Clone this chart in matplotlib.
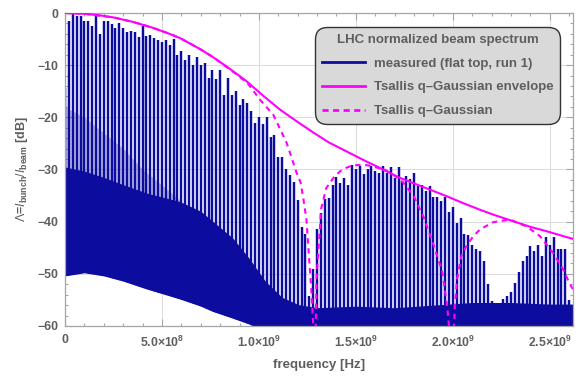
import numpy as np
import matplotlib
matplotlib.use("Agg")
import matplotlib.pyplot as plt
from matplotlib.ticker import MultipleLocator, FuncFormatter
from matplotlib.path import Path

plt.rcParams["font.family"] = ["Liberation Sans", "DejaVu Sans"]
plt.rcParams["mathtext.fontset"] = "custom"
plt.rcParams["mathtext.rm"] = "Liberation Sans"
plt.rcParams["mathtext.it"] = "Liberation Sans:italic"
plt.rcParams["mathtext.bf"] = "Liberation Sans:bold"

# ---------------- data ----------------
harmonic_spacing_hz = 20e6
spike_peak_db = [
    -14.4, -1.6, -0.1, -0.6, -0.6, -1.5, -1.5, -2.4, 0.0, -4.0,
    -1.5, -1.5, -2.1, -2.9, -2.0, -2.9, -3.6, -3.5, -3.6, -4.6,
    -2.5, -4.5, -4.3, -4.8, -5.1, -5.6, -5.1, -6.2, -4.9, -8.0,
    -7.3, -9.0, -8.1, -9.9, -8.4, -9.9, -9.6, -12.5, -10.9, -12.7,
    -11.0, -15.7, -12.5, -15.7, -14.9, -17.7, -16.4, -17.2, -18.8, -21.0,
    -20.0, -21.2, -20.0, -23.7, -23.3, -27.7, -27.7, -30.0, -31.1, -32.4,
    -35.8, -41.0, -42.3, -54.3, -49.0, -41.5, -38.3, -35.6, -35.4, -32.9,
    -31.5, -32.6, -31.6, -32.9, -29.1, -30.0, -29.4, -30.8, -30.0, -29.4,
    -30.3, -30.7, -29.4, -30.7, -29.6, -31.6, -29.6, -32.3, -31.3, -31.9,
    -30.7, -33.2, -32.9, -34.2, -33.2, -35.2, -35.2, -36.1, -35.2, -38.2,
    -37.2, -40.2, -39.3, -42.3, -42.5, -44.4, -45.3, -45.7, -47.6, -52.0,
    -55.2, -55.5, -55.6, -54.8, -54.2, -53.5, -51.7, -49.7, -47.6, -46.6,
    -44.7, -45.7, -44.4, -46.6, -42.9, -44.4, -42.9, -45.2, -45.2, -45.3,
    -55.0,
]

band_freq_hz = [0, 0.1e9, 0.2e9, 0.3e9, 0.42e9, 0.59e9, 0.7e9, 0.761e9, 0.864e9,
                0.947e9, 1.033e9, 1.119e9, 1.205e9, 1.3e9, 1.5e9, 1.7e9, 1.9e9,
                2.1e9, 2.3e9, 2.5e9, 2.62e9]
band_top_db = [-29.5, -30.3, -31.5, -32.9, -34.5, -36.1, -38.0, -39.9, -43.1,
               -46.9, -51.4, -54.5, -55.9, -56.5, -56.2, -56.5, -56.0, -55.5,
               -55.5, -55.8, -55.8]
band_bottom_db = [-50.4, -49.8, -50.4, -51.4, -52.9, -54.8, -56.2, -57.2, -58.5,
                  -59.6, -61.0, -61.0, -61.0, -61.0, -61.0, -61.0, -61.0, -61.0,
                  -61.0, -61.0, -61.0]

haze_freq_hz = [0, 0.1e9, 0.2e9, 0.3e9, 0.4e9, 0.5e9, 0.6e9]
haze_top_db = [-18.0, -20.0, -23.0, -26.0, -30.0, -33.0, -36.1]
haze_base_db = [-29.5, -30.3, -31.5, -32.9, -34.3, -35.3, -36.1]

env_freq_hz = [0, 0.1e9, 0.18e9, 0.25e9, 0.35e9, 0.45e9, 0.525e9, 0.593e9, 0.696e9,
               0.765e9, 0.85e9, 0.937e9, 1.02e9, 1.108e9, 1.2e9, 1.28e9, 1.36e9,
               1.45e9, 1.54e9, 1.624e9, 1.727e9, 1.85e9, 1.967e9, 2.05e9, 2.139e9,
               2.22e9, 2.31e9, 2.4e9, 2.48e9, 2.6e9, 2.62e9]
env_db = [0, -0.15, -0.45, -0.85, -1.7, -2.8, -3.8, -4.8, -6.9, -8.5, -10.7, -13.1,
          -15.8, -18.5, -20.9, -22.9, -24.8, -26.5, -28.2, -29.7, -31.6, -33.4,
          -35.1, -36.4, -37.7, -38.8, -39.9, -41.0, -41.8, -43.1, -43.3]

qg_freq_hz = [0, 0.1e9, 0.25e9, 0.35e9, 0.45e9, 0.525e9, 0.593e9, 0.696e9, 0.765e9,
              0.85e9, 0.9e9, 0.945e9, 1.005e9, 1.074e9, 1.143e9, 1.195e9, 1.215e9,
              1.23e9, 1.245e9, 1.27e9, 1.283e9, 1.288e9, 1.292e9, 1.297e9, 1.314e9,
              1.321e9, 1.347e9, 1.39e9, 1.43e9, 1.476e9, 1.52e9, 1.562e9, 1.648e9,
              1.70e9, 1.742e9, 1.8e9, 1.85e9, 1.9e9, 1.945e9, 1.97e9, 1.985e9,
              1.995e9, 2.005e9, 2.01e9, 2.022e9, 2.044e9, 2.07e9, 2.105e9, 2.14e9,
              2.208e9, 2.294e9, 2.38e9, 2.45e9, 2.517e9, 2.57e9, 2.6e9, 2.62e9]
qg_db = [0, -0.15, -0.85, -1.7, -2.8, -3.8, -4.8, -6.9, -8.5, -10.8, -12.2, -13.6,
         -16.6, -19.5, -24.9, -30.7, -32.5, -35.8, -39.6, -53.0, -62.0, -80.0, -62.0,
         -51.0, -41.5, -37.5, -33.6, -31.3, -30.0, -29.3, -29.1, -29.2, -30.0, -31.2,
         -32.4, -35.2, -39.2, -44.4, -49.5, -55.9, -62.0, -80.0, -62.0, -56.2, -51.0,
         -46.6, -44.7, -42.8, -41.5, -40.1, -39.6, -40.9, -42.8, -46.0, -49.2, -51.7,
         -53.0]

legend_title = "LHC normalized beam spectrum"
legend_labels = ["measured (flat top, run 1)", "Tsallis q\u2013Gaussian envelope",
                 "Tsallis q\u2013Gaussian"]

# ---------------- styling ----------------
blue = "#0c0c9e"
magenta = "#ff00ff"
text_gray = "#5e5e5e"
frame_gray = "#a6a6a6"

fig = plt.figure(figsize=(5.79, 3.78), dpi=100)
ax = fig.add_axes([0.1123, 0.1376, 0.8774, 0.828])
ax.set_xlim(0, 2.62e9)
ax.set_ylim(-60, 0)

ax.grid(which="major", color="#dddddd", lw=0.8, zorder=0)
ax.set_axisbelow(True)

# measured spectrum: spikes at the revolution harmonics + noise band
harm_f = np.arange(len(spike_peak_db)) * harmonic_spacing_hz
spikes = ax.vlines(harm_f, -61, spike_peak_db, colors=blue, lw=1.75, zorder=2)
clip_verts = list(zip(band_freq_hz, band_bottom_db)) + [(band_freq_hz[-1], 5), (band_freq_hz[0], 5)]
clip_path = Path(clip_verts + [clip_verts[0]], closed=True)
spikes.set_clip_path(clip_path, ax.transData)

ax.fill_between(haze_freq_hz, haze_base_db, haze_top_db, color=blue, alpha=0.25, lw=0, zorder=1.5)
ax.fill_between(band_freq_hz, band_bottom_db, band_top_db, color=blue, lw=0, zorder=2)

ax.plot(env_freq_hz, env_db, color=magenta, lw=1.5, zorder=3)
ax.plot(qg_freq_hz, qg_db, color=magenta, lw=1.5, ls=(0, (2.6, 2.2)), zorder=3)

# ticks / frame
ax.xaxis.set_major_locator(MultipleLocator(5e8))
ax.xaxis.set_minor_locator(MultipleLocator(1e8))
ax.yaxis.set_major_locator(MultipleLocator(10))
ax.yaxis.set_minor_locator(MultipleLocator(2))
ax.tick_params(which="both", direction="in", top=True, right=True, color=frame_gray,
               labelcolor=text_gray, labelsize=8.8, width=0.8)
ax.tick_params(which="major", length=5)
ax.tick_params(axis="x", which="major", pad=6)
ax.tick_params(axis="y", which="major", pad=5)
ax.tick_params(which="minor", length=2.5)
for s in ax.spines.values():
    s.set_color(frame_gray)
    s.set_linewidth(0.9)


def xfmt(v, pos):
    if abs(v) < 1:
        return "0"
    e = int(np.floor(np.log10(abs(v))))
    m = v / 10 ** e
    return "%.1f\u00d710$^{\\mathbf{%d}}$" % (m, e)


ax.xaxis.set_major_formatter(FuncFormatter(xfmt))
for lab in ax.get_xticklabels() + ax.get_yticklabels():
    lab.set_fontweight("bold")

ax.set_xlabel("frequency [Hz]", fontsize=9.5, fontweight="bold", color=text_gray, labelpad=7)
ax.set_ylabel(r"$\Lambda$=$I_{\mathbf{bunch}}/I_{\mathbf{beam}}$ [dB]", fontsize=9.0,
              fontweight="bold", color=text_gray, labelpad=5)

# legend
handles = [plt.Line2D([], [], color=blue, lw=2),
           plt.Line2D([], [], color=magenta, lw=2),
           plt.Line2D([], [], color=magenta, lw=2, ls=(0, (2.2, 1.6)))]
leg = ax.legend(handles, legend_labels, title=legend_title, loc="upper right",
                bbox_to_anchor=(0.974, 0.955), borderaxespad=0, fancybox=True,
                framealpha=1, facecolor="#d9d9d9", edgecolor="#333333",
                prop={"weight": "bold", "size": 9.5}, labelspacing=0.88,
                handlelength=3.25, handletextpad=0.68, borderpad=0.5,
                title_fontproperties={"weight": "bold", "size": 9.5})
leg.get_frame().set_linewidth(1.0)
leg.get_frame().set_boxstyle("round,pad=0.0,rounding_size=0.9")
leg.get_title().set_color(text_gray)
for t in leg.get_texts():
    t.set_color(text_gray)
leg.set_zorder(5)

fig.savefig("out.png", dpi=100)
